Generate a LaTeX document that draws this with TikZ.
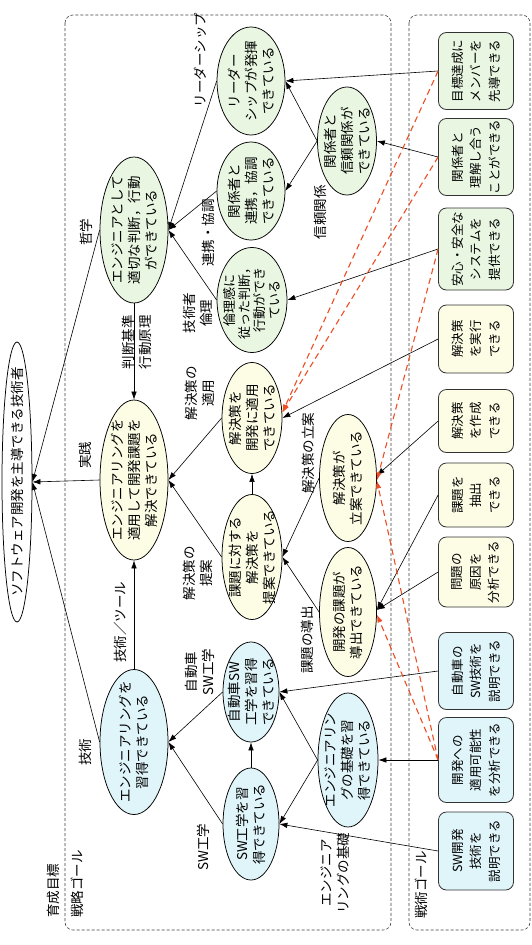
\documentclass[tikz,border=0pt]{standalone}
\usepackage{fontspec}
\setmainfont{Noto Sans CJK JP}
\usetikzlibrary{shapes.geometric,arrows.meta}
\definecolor{gfill}{RGB}{233,247,226}
\definecolor{yfill}{RGB}{253,253,230}
\definecolor{bfill}{RGB}{224,245,250}
\definecolor{myred}{RGB}{238,78,36}
\begin{document}
\begin{tikzpicture}[x=1pt,y=-1pt,
  every node/.style={font=\fontsize{13.5}{17}\selectfont},
  es/.style 2 args={minimum height=#1pt, minimum width=#2pt},
  ell/.style={ellipse, draw=black, line width=0.75pt, inner sep=-20pt, rotate=90, align=center},
  gb/.style={rectangle, rounded corners=8pt, draw=black!80, line width=0.8pt, rotate=90, align=center,
     minimum height=75pt, inner sep=1pt, font=\fontsize{12.5}{18.5}\selectfont},
  lab/.style={rotate=90, align=center, inner sep=0pt},
  arr/.style={-{Latex[length=8pt,width=5.5pt]}, line width=0.6pt, draw=black},
  rarr/.style={-{Latex[length=8pt,width=5.5pt]}, draw=myred, line width=1.1pt, dash pattern=on 6pt off 4pt},
  frame/.style={draw=black!75, line width=0.6pt, dash pattern=on 3pt off 2pt, rounded corners=8pt}]
\useasboundingbox (0,0) rectangle (532,945);
\fill[white] (0,0) rectangle (532,945);
% frames
\draw[frame] (65,15) rectangle (391,930);
\draw[frame] (409,15) rectangle (530,930);
\node[lab, anchor=west] (tgoal) at (53,918) {育成目標};
\node[lab, anchor=west] (sgoal) at (77,918) {戦略ゴール};
\node[lab, anchor=west] (tacgoal) at (421,919) {戦術ゴール};
% ellipses
\node[ell, fill=white, es={30}{280}] (top) at (17,482) {ソフトウェア開発を主導できる技術者};
\node[ell, fill=gfill, es={68}{146}] (Gbig) at (134,230) {エンジニアとして\\適切な判断，行動\\ができている};
\node[ell, fill=yfill, es={68}{160}] (Ybig) at (134,480) {エンジニアリングを\\適用して開発課題を\\解決できている};
\node[ell, fill=bfill, es={68}{145}] (Bbig) at (134,742) {エンジニアリングを\\習得できている};
\node[ell, fill=gfill, es={68}{108}] (Lead) at (251,81) {リーダー\\シップが発揮\\できている};
\node[ell, fill=gfill, es={68}{98}] (Coop) at (251,191) {関係者と\\連携，協調\\できている};
\node[ell, fill=gfill, es={70}{105}, font=\fontsize{13}{15}\selectfont] (Eth) at (252,300) {倫理感に\\従った判断，\\行動ができ\\ている};
\node[ell, fill=yfill, es={60}{111}] (Apply) at (252,418) {解決策を\\開発に適用\\できている};
\node[ell, fill=yfill, es={60}{125}] (Prop) at (252,557) {課題に対する\\解決策を\\提案できている};
\node[ell, fill=bfill, es={56}{100}] (ASW) at (251,692) {自動車SW\\工学を習得\\できている};
\node[ell, fill=bfill, es={56}{112}] (SWE) at (251,824) {SW工学を習\\得できている};
\node[ell, fill=gfill, es={59}{108}] (Trust) at (347,141) {関係者と\\信頼関係が\\できている};
\node[ell, fill=yfill, es={57}{127}] (Plan) at (348,478) {解決策が\\立案できている};
\node[ell, fill=yfill, es={57}{129}] (Issue) at (348,612) {開発の課題が\\導出できている};
\node[ell, fill=bfill, es={60}{134}] (Base) at (348,760) {エンジニアリン\\グの基礎を習\\得できている};
% tactical goal boxes
\node[gb, fill=gfill, minimum width=77pt] (Goal) at (476,71) {目標達成に\\メンバーを\\先導できる};
\node[gb, fill=gfill, minimum width=77pt] (Under) at (476,157) {関係者と\\理解し合う\\ことができる};
\node[gb, fill=gfill, minimum width=82pt] (Safe) at (476,249) {安心・安全な\\システムを\\提供できる};
\node[gb, fill=yfill, minimum width=68pt] (Exec) at (476,339) {解決策\\を実行\\できる};
\node[gb, fill=yfill, minimum width=63pt] (Make) at (476,421) {解決策\\を作成\\できる};
\node[gb, fill=yfill, minimum width=64pt] (Extract) at (476,495) {課題を\\抽出\\できる};
\node[gb, fill=yfill, minimum width=70pt] (Cause) at (476,572) {問題の\\原因を\\分析できる};
\node[gb, fill=bfill, minimum width=77pt] (AutoSW) at (476,671) {自動車の\\SW技術を\\説明できる};
\node[gb, fill=bfill, minimum width=85pt] (Appl) at (476,760) {開発への\\適用可能性\\を分析できる};
\node[gb, fill=bfill, minimum width=78pt] (SWDev) at (476,851) {SW開発\\技術を\\説明できる};
% edge labels
\node[lab] (l1) at (85,455) {実践};
\node[lab] (l2) at (86,232) {哲学};
\node[lab] (l3) at (85,752) {技術};
\node[lab] (l4) at (137,342) {判断基準\\行動原理};
\node[lab] (l5) at (120,622) {技術／ツール};
\node[lab] (l6) at (200,60) {リーダーシップ};
\node[lab] (l7) at (208,233) {連携・協調};
\node[lab] (l8) at (198,313) {技術者\\倫理};
\node[lab] (l9) at (200,393) {解決策の\\適用};
\node[lab] (l10) at (198,573) {解決策の\\提案};
\node[lab] (l11) at (200,672) {自動車\\SW工学};
\node[lab] (l12) at (203,847) {SW工学};
\node[lab] (l13) at (320,212) {信頼関係};
\node[lab] (l14) at (308,453) {解決策の立案};
\node[lab] (l15) at (307,640) {課題の導出};
\node[lab] (l16) at (335,873) {エンジニア\\リングの基礎};
% connectors
\draw[arr] (Ybig.north) -- (top.south);
\draw[arr] (Gbig.north) -- (top.south);
\draw[arr] (Bbig.north) -- (top.south);
\draw[arr] (Gbig.west) -- (Ybig.east);
\draw[arr] (Bbig.east) -- (Ybig.west);
\draw[arr] (Lead.north) -- (Gbig.south);
\draw[arr] (Coop.north) -- (Gbig.south);
\draw[arr] (Eth.north) -- (Gbig.south);
\draw[arr] (Apply.north) -- (Ybig.south);
\draw[arr] (Prop.north) -- (Ybig.south);
\draw[arr] (ASW.north) -- (Bbig.south);
\draw[arr] (SWE.north) -- (Bbig.south);
\draw[arr] (Prop.east) -- (Apply.west);
\draw[arr] (SWE.east) -- (ASW.west);
\draw[arr] (Trust.north) -- (Lead.south);
\draw[arr] (Trust.north) -- (Coop.south);
\draw[arr] (Plan.north) -- (Prop.south);
\draw[arr] (Issue.north) -- (Prop.south);
\draw[arr] (Base.north) -- (ASW.south);
\draw[arr] (Base.north) -- (SWE.south);
\draw[arr] (Goal.north) -- (Lead.south);
\draw[arr] (Under.north) -- (Trust.south);
\draw[arr] (Safe.north) -- (Eth.south);
\draw[arr] (Exec.north) -- (Apply.south);
\draw[arr] (Make.north) -- (Plan.-85);
\draw[arr] (Extract.north) -- (Issue.-86);
\draw[arr] (Cause.north) -- (Issue.-86);
\draw[arr] (AutoSW.north) -- (ASW.south);
\draw[arr] (Appl.north) -- (Base.south);
\draw[arr] (SWDev.north) -- (SWE.south);
% red dashed
\draw[rarr] (Goal.north) -- (Apply.-80);
\draw[rarr] (Under.north) -- (Apply.-80);
\draw[rarr] (Safe.north) -- (Plan.-95);
\draw[rarr] (Appl.north) -- (Plan.-95);
\draw[rarr] (Appl.north) -- (Issue.-95);
\end{tikzpicture}
\end{document}
